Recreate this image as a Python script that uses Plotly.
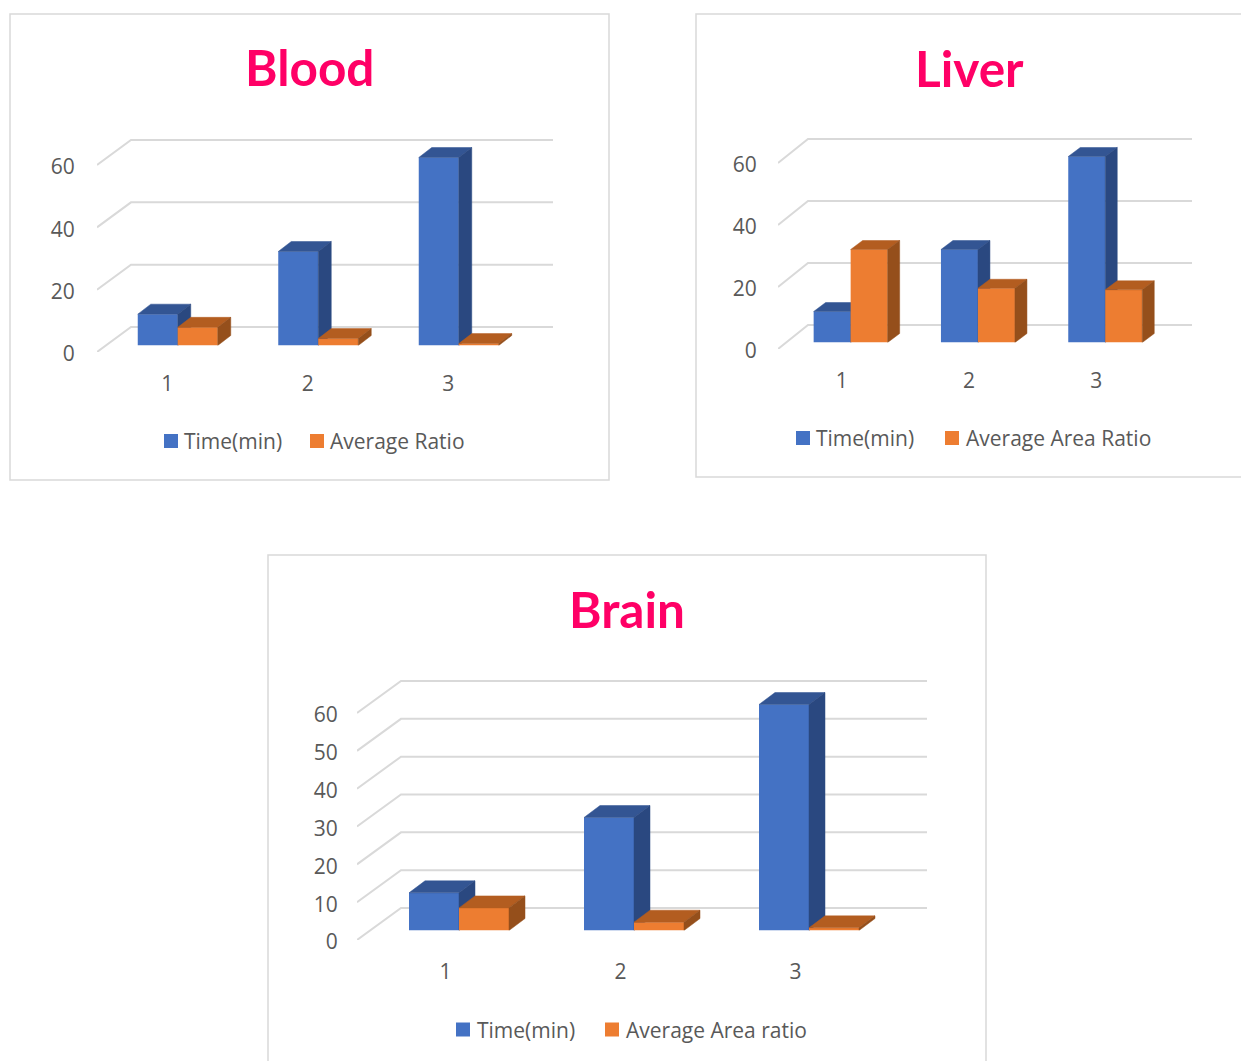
import plotly.graph_objects as go

W, H = 1241, 1061

categories = [1, 2, 3]
time_min = [10, 30, 60]
blood_ratio = [5.8, 2.2, 0.6]
liver_ratio = [30, 17.5, 17]
brain_ratio = [6, 2.2, 0.7]
blood_ticks = [0, 20, 40, 60]
liver_ticks = [0, 20, 40, 60]
brain_ticks = [0, 10, 20, 30, 40, 50, 60]
series1_name = "Time(min)"

BLUE, BLUE_TOP, BLUE_SIDE = "#4472c4", "#335593", "#2a4880"
ORANGE, ORANGE_TOP, ORANGE_SIDE = "#ed7d31", "#b35d20", "#954f1b"
GRID, TEXT, PINK = "#d9d9d9", "#595959", "#ff0066"
FONT = "Open Sans"
FS = 21

charts = [
    dict(title="Blood", tx=309.5, ty=67, panel=(10, 14, 609, 480), name2="Average Ratio", vals=blood_ratio,
         ticks=blood_ticks, x0=97, y0=352, y60=165, ddx=34, ddy=25, xr=553, catw=140.5, ylen=17, xshift=0,
         sx=10.5, by0=345.5, by60=157.5, bw=40, fdx=13, fdy=10, leg=(164, 182.5, 310, 328.5, 441)),
    dict(title="Liver", tx=969.5, ty=68, panel=(696, 14, 1260, 477), name2="Average Area Ratio", vals=liver_ratio,
         ticks=liver_ticks, x0=778, y0=349, y60=163, ddx=30, ddy=24, xr=1192, catw=127.3, ylen=16, xshift=0,
         sx=9, by0=342.5, by60=156.5, bw=37, fdx=12, fdy=9, leg=(796, 814.5, 945, 964.5, 438)),
    dict(title="Brain", tx=626.5, ty=609, panel=(268, 555, 986, 1085), name2="Average Area ratio", vals=brain_ratio,
         ticks=brain_ticks, x0=357, y0=940, y60=713, ddx=44, ddy=32, xr=927, catw=175, ylen=14, xshift=1,
         sx=14.5, by0=930.5, by60=704.5, bw=50, fdx=16, fdy=12, leg=(456, 475.5, 605, 624.5, 1029.5)),
]

fig = go.Figure()
layout = dict(
    width=W, height=H, margin=dict(l=0, r=0, t=0, b=0, autoexpand=False), autosize=False,
    paper_bgcolor="white", plot_bgcolor="rgba(0,0,0,0)", showlegend=False,
    font=dict(family=FONT, color=TEXT), shapes=[], annotations=[],
)


def dom_x(a, b):
    return [a / W, b / W]


def dom_y(bottom, top):
    return [1 - bottom / H, 1 - top / H]


def poly(xs, ys, color, xa, ya):
    return go.Scatter(x=xs, y=ys, mode="lines", fill="toself", fillcolor=color,
                      line=dict(color=color, width=0.5), hoverinfo="skip",
                      showlegend=False, xaxis=xa, yaxis=ya)


def label(text, x, y, anchor="left", size=FS, color=TEXT, family=FONT):
    return dict(text=text, x=x / W, y=1 - y / H, xref="paper", yref="paper", xanchor=anchor,
                yanchor="middle", showarrow=False, borderpad=0, font=dict(family=family, size=size, color=color))


def swatch(x, y, color):
    return dict(type="rect", xref="paper", yref="paper", x0=x / W, x1=(x + 14) / W,
                y0=1 - (y - 7) / H, y1=1 - (y + 7) / H, line=dict(width=0), fillcolor=color)


n = 0
for ci, c in enumerate(charts):
    catw = c["catw"]
    ppu = (c["y0"] - c["y60"]) / 60
    xmax = 0.5 + (c["xr"] - c["x0"]) / catw
    ymax = 60 + (c["ddy"] + 2) / ppu
    top_px = c["y0"] - ymax * ppu

    # frame layer: tick labels and walls
    n += 1
    sfx = "" if n == 1 else str(n)
    layout["xaxis" + sfx] = dict(
        domain=dom_x(c["x0"], c["xr"]), range=[0.5, xmax], anchor="y" + sfx, tickmode="array",
        tickvals=categories, ticktext=[str(v) for v in categories], showgrid=False, zeroline=False,
        showline=False, ticks="outside", ticklen=13, tickcolor="rgba(0,0,0,0)", ticklabelshift=c["xshift"],
        tickfont=dict(size=FS, color=TEXT, family=FONT))
    layout["yaxis" + sfx] = dict(
        domain=dom_y(c["y0"], top_px), range=[0, ymax], anchor="x" + sfx, tickmode="array",
        tickvals=c["ticks"], showgrid=False, zeroline=False, showline=False, ticks="outside",
        ticklen=c["ylen"], tickcolor="rgba(0,0,0,0)", ticklabelshift=2,
        tickfont=dict(size=FS, color=TEXT, family=FONT))
    for v in c["ticks"]:
        e = c["ddy"] / ppu
        fig.add_trace(go.Scatter(x=[0.5, 0.5 + c["ddx"] / catw, xmax], y=[v, v + e, v + e], mode="lines",
                                 line=dict(color=GRID, width=2), hoverinfo="skip", showlegend=False,
                                 cliponaxis=False, xaxis="x" + sfx, yaxis="y" + sfx))

    # bar layers: one per series so the front series covers the back series' side
    bppu = (c["by0"] - c["by60"]) / 60
    bar_w = c["bw"] / catw
    d = c["fdx"] / catw
    e = c["fdy"] / bppu
    series = [(series1_name, time_min, -bar_w, BLUE, BLUE_TOP, BLUE_SIDE),
              (c["name2"], c["vals"], 0.0, ORANGE, ORANGE_TOP, ORANGE_SIDE)]
    for name, vals, off, col, top, side in series:
        n += 1
        sfx = str(n)
        layout["xaxis" + sfx] = dict(
            domain=dom_x(c["x0"] + c["sx"], c["xr"] + c["sx"]), range=[0.5, xmax], anchor="y" + sfx,
            visible=False)
        ymax_b = (c["y0"] - top_px) / bppu
        layout["yaxis" + sfx] = dict(
            domain=dom_y(c["by0"], c["by0"] - ymax_b * bppu), range=[0, ymax_b], anchor="x" + sfx,
            visible=False)
        fig.add_trace(go.Bar(x=categories, y=vals, width=bar_w, offset=off, name=name,
                             marker=dict(color=col, line=dict(width=0)),
                             xaxis="x" + sfx, yaxis="y" + sfx))
        for cat, v in zip(categories, vals):
            a, b = cat + off, cat + off + bar_w
            fig.add_trace(poly([a, b, b + d, a + d, a], [v, v, v + e, v + e, v], top, "x" + sfx, "y" + sfx))
            fig.add_trace(poly([b, b + d, b + d, b, b], [0, e, v + e, v, 0], side, "x" + sfx, "y" + sfx))

    sw1, tx1, sw2, tx2, ly = c["leg"]
    layout["shapes"].append(swatch(sw1, ly, BLUE))
    layout["shapes"].append(swatch(sw2, ly, ORANGE))
    layout["annotations"].append(label(series1_name, tx1, ly))
    layout["annotations"].append(label(c["name2"], tx2, ly))

    x0, y0, x1, y1 = c["panel"]
    layout["shapes"].append(dict(type="rect", xref="paper", yref="paper", x0=x0 / W, x1=x1 / W,
                                 y0=1 - y0 / H, y1=1 - y1 / H, line=dict(color=GRID, width=1.5),
                                 fillcolor="white", layer="below"))
    layout["annotations"].append(label(f"<b>{c['title']}</b>", c["tx"], c["ty"], "center", 49.5, PINK, "Lato"))

fig.update_layout(**layout)
fig.write_html("out.html", config=dict(displayModeBar=False),
               post_script="document.body.style.margin='0';document.body.style.overflow='hidden';")
